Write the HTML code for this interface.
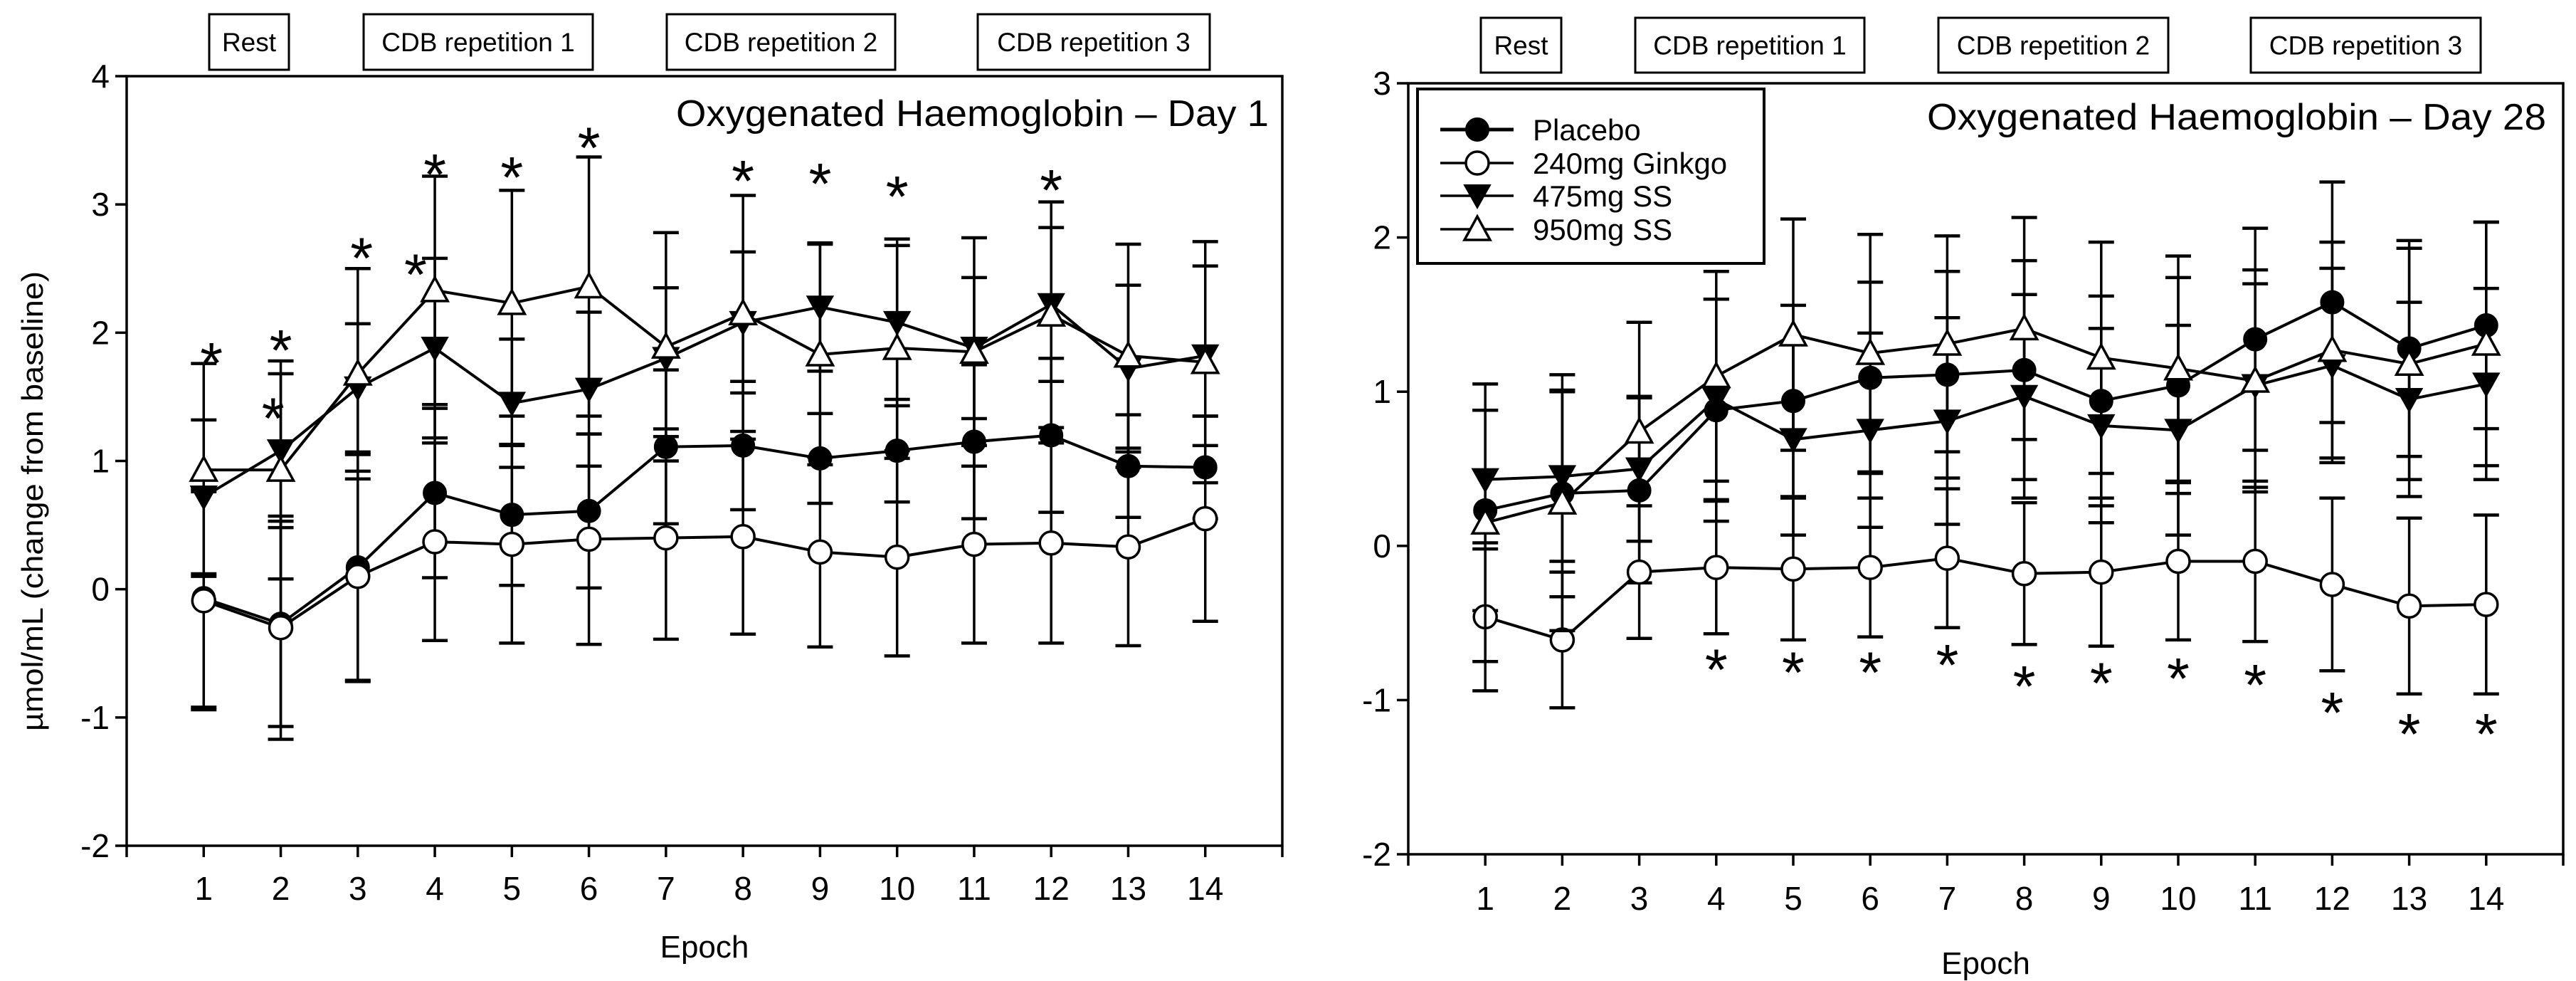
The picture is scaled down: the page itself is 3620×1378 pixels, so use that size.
<!DOCTYPE html>
<html><head><meta charset="utf-8"><style>
html,body{margin:0;padding:0;background:#fff;}
svg{display:block;font-family:"Liberation Sans",sans-serif;}
</style></head><body>
<svg id="chart" width="3620" height="1378" viewBox="0 0 3620 1378" xmlns="http://www.w3.org/2000/svg"></svg>
<script>
const epochs=[1,2,3,4,5,6,7,8,9,10,11,12,13,14];
const seriesNames=["Placebo","240mg Ginkgo","475mg SS","950mg SS"];
const d1Placebo=[-0.07,-0.27,0.17,0.75,0.58,0.61,1.11,1.12,1.02,1.08,1.15,1.2,0.96,0.95];
const d1Ginkgo=[-0.09,-0.3,0.1,0.37,0.35,0.39,0.4,0.41,0.29,0.25,0.35,0.36,0.33,0.55];
const d1SS475=[0.72,1.08,1.57,1.88,1.45,1.56,1.8,2.08,2.2,2.08,1.88,2.22,1.72,1.82];
const d1SS950=[0.93,0.93,1.68,2.33,2.23,2.36,1.89,2.15,1.83,1.88,1.85,2.14,1.82,1.77];
const d1PlaceboErr=[0.85,0.8,0.88,0.66,0.55,0.6,0.6,0.5,0.35,0.4,0.6,0.6,0.4,0.4];
const d1GinkgoErr=[0.85,0.87,0.82,0.77,0.77,0.82,0.79,0.76,0.74,0.77,0.77,0.78,0.77,0.8];
const d1SS475Err=[0.6,0.6,0.5,0.7,0.5,0.6,0.55,0.55,0.5,0.65,0.55,0.6,0.65,0.7];
const d1SS950Err=[0.83,0.85,0.82,0.89,0.88,1.01,0.89,0.92,0.86,0.8,0.89,0.88,0.87,0.94];
const d1StarX=[1.1,2,1.9,3.05,4,3.75,5,6,8,9,10,12];
const d1StarY=[1.86,1.96,1.43,2.68,3.33,2.55,3.31,3.54,3.28,3.26,3.16,3.21];
const d28Placebo=[0.23,0.34,0.36,0.88,0.94,1.09,1.11,1.14,0.94,1.04,1.34,1.58,1.28,1.43];
const d28Ginkgo=[-0.46,-0.61,-0.17,-0.14,-0.15,-0.14,-0.08,-0.18,-0.17,-0.1,-0.1,-0.25,-0.39,-0.38];
const d28SS475=[0.43,0.45,0.5,0.95,0.69,0.75,0.81,0.97,0.78,0.75,1.04,1.17,0.95,1.05];
const d28SS950=[0.15,0.28,0.74,1.1,1.37,1.25,1.31,1.41,1.22,1.15,1.07,1.27,1.18,1.31];
const d28PlaceboErr=[0.65,0.67,0.6,0.72,0.62,0.62,0.67,0.71,0.68,0.7,0.72,0.78,0.7,0.67];
const d28GinkgoErr=[0.48,0.44,0.43,0.43,0.46,0.45,0.45,0.46,0.48,0.51,0.52,0.56,0.57,0.58];
const d28SS475Err=[0.45,0.55,0.47,0.65,0.62,0.63,0.67,0.66,0.63,0.68,0.66,0.63,0.63,0.62];
const d28SS950Err=[0.9,0.83,0.71,0.68,0.75,0.77,0.7,0.72,0.75,0.73,0.72,0.7,0.75,0.79];
const d28StarX=[4,5,6,7,8,9,10,11,12,13,14];
const d28StarY=[-0.72,-0.74,-0.74,-0.69,-0.83,-0.81,-0.78,-0.82,-1.0,-1.14,-1.14];
const phaseLabels=["Rest","CDB repetition 1","CDB repetition 2","CDB repetition 3"];
const d1Ticks=[4,3,2,1,0,-1,-2];
const d28Ticks=[3,2,1,0,-1,-2];

const NS="http://www.w3.org/2000/svg";
const svg=document.getElementById('chart');
function mk(tag,attrs,parent){const e=document.createElementNS(NS,tag);for(const k in attrs)e.setAttribute(k,attrs[k]);(parent||svg).appendChild(e);return e;}

function panel(cfg){
  const g=mk('g',{});
  
  
  const X=e=>cfg.x0+e*(cfg.x1-cfg.x0)/15;
  const Y=v=>cfg.yTop+(cfg.yMax-v)*(cfg.yBot-cfg.yTop)/(cfg.yMax-cfg.yMin);
  cfg.boxes.forEach((b,i)=>{
    const bg=mk('g',{},g);
    
    
    mk('rect',{x:b[0],y:cfg.boxY,width:b[1]-b[0],height:cfg.boxH,fill:'#fff',stroke:'#000','stroke-width':3},bg);
    const t=mk('text',{x:(b[0]+b[1])/2,y:cfg.boxY+cfg.boxH/2+13,'text-anchor':'middle','font-size':37},bg);
    t.textContent=phaseLabels[i];
  });
  const fr=mk('rect',{x:cfg.x0,y:cfg.yTop,width:cfg.x1-cfg.x0,height:cfg.yBot-cfg.yTop,fill:'none',stroke:'#000','stroke-width':3.5},g);
  
  
  cfg.ticks.forEach(v=>{
    mk('line',{x1:cfg.x0-16,x2:cfg.x0,y1:Y(v),y2:Y(v),stroke:'#000','stroke-width':3.5},g);
    const t=mk('text',{x:cfg.x0-24,y:Y(v)+16,'text-anchor':'end','font-size':46},g);
    
    
    t.textContent=v;
  });
  for(let e=0;e<=15;e++) mk('line',{x1:X(e),x2:X(e),y1:cfg.yBot,y2:cfg.yBot+16,stroke:'#000','stroke-width':3.5},g);
  epochs.forEach(e=>{
    const t=mk('text',{x:X(e),y:cfg.tickLabY,'text-anchor':'middle','font-size':46},g);
    
    
    t.textContent=e;
  });
  const xt=mk('text',{x:(cfg.x0+cfg.x1)/2,y:cfg.epochY,'text-anchor':'middle','font-size':44},g);
  
  
  xt.textContent='Epoch';
  const tt=mk('text',{x:cfg.titleX-cfg.titleW,y:cfg.titleY,'font-size':52,textLength:cfg.titleW,lengthAdjust:'spacingAndGlyphs'},g);
  
  
  tt.textContent=cfg.title;
  const mkrs=['fc','oc','dt','ut'];
  cfg.series.forEach((s,si)=>{
    const sg=mk('g',{},g);
    
    
    s.v.forEach((v,i)=>{
      const x=X(epochs[i]),hi=Y(v+s.e[i]),lo=Y(v-s.e[i]);
      mk('line',{x1:x,x2:x,y1:hi,y2:lo,stroke:'#000','stroke-width':3.5},sg);
      mk('line',{x1:x-18,x2:x+18,y1:hi,y2:hi,stroke:'#000','stroke-width':4.5},sg);
      mk('line',{x1:x-18,x2:x+18,y1:lo,y2:lo,stroke:'#000','stroke-width':4.5},sg);
    });
    mk('polyline',{points:s.v.map((v,i)=>X(epochs[i])+','+Y(v)).join(' '),fill:'none',stroke:'#000','stroke-width':4},sg);
    s.v.forEach((v,i)=>{const m=marker(mkrs[si],X(epochs[i]),Y(v),sg);});
  });
  cfg.starX.forEach((sx,i)=>{
    const t=mk('text',{x:X(sx),y:Y(cfg.starY[i])+46,'text-anchor':'middle','font-size':82},g);
    
    
    t.textContent='*';
  });
}
function marker(type,x,y,p){
  if(type==='fc')return mk('circle',{cx:x,cy:y,r:16,fill:'#000',stroke:'#000','stroke-width':2},p);
  if(type==='oc')return mk('circle',{cx:x,cy:y,r:16,fill:'#fff',stroke:'#000','stroke-width':3.5},p);
  if(type==='dt')return mk('polygon',{points:`${x-18},${y-15} ${x+18},${y-15} ${x},${y+17}`,fill:'#000',stroke:'#000','stroke-width':2},p);
  return mk('polygon',{points:`${x-18},${y+15} ${x+18},${y+15} ${x},${y-18}`,fill:'#fff',stroke:'#000','stroke-width':3.5},p);
}
panel({name:'day1-chart',x0:178,x1:1802,yTop:107,yBot:1188,yMax:4,yMin:-2,ticks:d1Ticks,
  boxes:[[294,406],[511,833],[937,1258],[1374,1700]],boxY:20,boxH:78,tickLabY:1264,epochY:1345,
  title:'Oxygenated Haemoglobin – Day 1',titleX:1783,titleW:833,titleY:177,
  series:[{v:d1Placebo,e:d1PlaceboErr},{v:d1Ginkgo,e:d1GinkgoErr},{v:d1SS475,e:d1SS475Err},{v:d1SS950,e:d1SS950Err}],
  starX:d1StarX,starY:d1StarY});
panel({name:'day28-chart',x0:1979,x1:3602,yTop:117,yBot:1200,yMax:3,yMin:-2,ticks:d28Ticks,
  boxes:[[2081,2194],[2298,2620],[2724,3047],[3163,3486]],boxY:25,boxH:77,tickLabY:1278,epochY:1368,
  title:'Oxygenated Haemoglobin – Day 28',titleX:3578,titleW:870,titleY:182,
  series:[{v:d28Placebo,e:d28PlaceboErr},{v:d28Ginkgo,e:d28GinkgoErr},{v:d28SS475,e:d28SS475Err},{v:d28SS950,e:d28SS950Err}],
  starX:d28StarX,starY:d28StarY});
const yt=mk('text',{x:-323,y:14,'font-size':42,textLength:646,lengthAdjust:'spacingAndGlyphs',transform:'translate(46,704) rotate(-90)'});


yt.textContent='µmol/mL  (change from baseline)';
const lg=mk('g',{});


mk('rect',{x:1992,y:125,width:487,height:245,fill:'#fff',stroke:'#000','stroke-width':4},lg);
const lys=[182,229,275,322];const lt=['fc','oc','dt','ut'];
seriesNames.forEach((n,i)=>{
  const eg=mk('g',{},lg);
  
  
  mk('line',{x1:2024,x2:2127,y1:lys[i],y2:lys[i],stroke:'#000','stroke-width':i===0?5:3.5},eg);
  marker(lt[i],2076,lys[i],eg);
  const t=mk('text',{x:2154,y:lys[i]+15,'font-size':42},eg);
  t.textContent=n;
});
</script>
</body></html>
